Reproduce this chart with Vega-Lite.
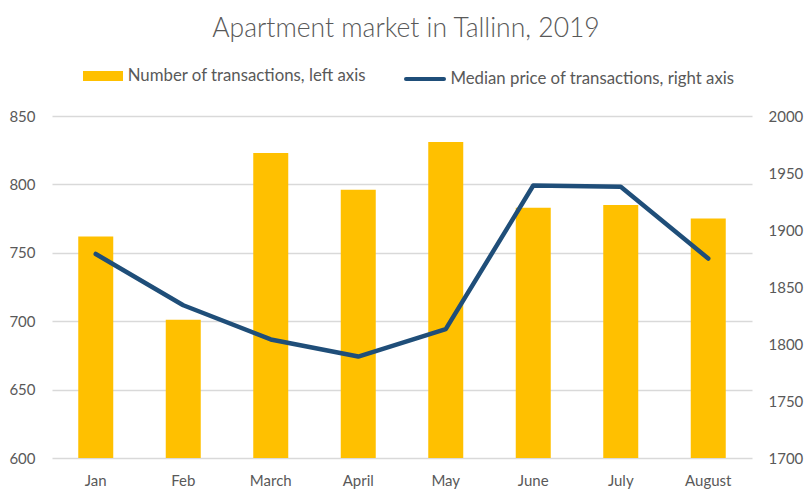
{
  "$schema": "https://vega.github.io/schema/vega-lite/v6.json",
  "width": 700,
  "height": 342,
  "autosize": {"type": "none"},
  "padding": {"left": 52, "top": 116, "right": 59, "bottom": 41},
  "background": "white",
  "title": {
    "text": "Apartment market in Tallinn, 2019",
    "font": "Lato",
    "fontSize": 26.5,
    "fontWeight": 300,
    "color": "#595959",
    "anchor": "middle",
    "offset": 16,
    "dx": 4
  },
  "config": {
    "view": {"stroke": null},
    "font": "Lato",
    "axis": {
      "labelFont": "Lato",
      "labelFontSize": 15,
      "labelColor": "#595959",
      "domain": false,
      "ticks": false,
      "title": null,
      "gridColor": "#d9d9d9",
      "gridWidth": 1.5
    },
    "legend": {
      "labelFont": "Lato",
      "labelFontSize": 16.8,
      "labelColor": "#595959",
      "padding": 0,
      "title": null,
      "orient": "none",
      "labelLimit": 400
    }
  },
  "data": {
    "values": [
      {"month": "Jan", "transactions": 762, "price": 1879},
      {"month": "Feb", "transactions": 701, "price": 1834},
      {"month": "March", "transactions": 823, "price": 1804},
      {"month": "April", "transactions": 796, "price": 1789},
      {"month": "May", "transactions": 831, "price": 1813},
      {"month": "June", "transactions": 783, "price": 1939},
      {"month": "July", "transactions": 785, "price": 1938},
      {"month": "August", "transactions": 775, "price": 1875}
    ]
  },
  "encoding": {
    "x": {
      "field": "month",
      "type": "nominal",
      "sort": null,
      "scale": {"paddingInner": 0.6, "paddingOuter": 0.3},
      "axis": {"labelAngle": 0, "labelPadding": 15, "grid": false}
    }
  },
  "layer": [
    {
      "mark": {"type": "bar", "clip": true},
      "encoding": {
        "y": {
          "field": "transactions",
          "type": "quantitative",
          "scale": {"domain": [600, 850], "zero": false, "nice": false},
          "axis": {"orient": "left", "values": [600, 650, 700, 750, 800, 850], "format": "d", "grid": true, "labelPadding": 17}
        },
        "color": {
          "datum": "Number of transactions, left axis",
          "type": "nominal",
          "scale": {"range": ["#FFC000"]},
          "legend": {
            "symbolType": "M-2,-0.5H2V0.5H-2Z",
            "symbolSize": 400,
            "symbolStrokeWidth": 0,
            "symbolOpacity": 1,
            "labelOffset": 14.7,
            "legendX": 41,
            "legendY": -50
          }
        }
      }
    },
    {
      "mark": {"type": "line", "strokeWidth": 4.5, "strokeCap": "round", "strokeJoin": "round"},
      "encoding": {
        "y": {
          "field": "price",
          "type": "quantitative",
          "scale": {"domain": [1700, 2000], "zero": false, "nice": false},
          "axis": {"orient": "right", "values": [1700, 1750, 1800, 1850, 1900, 1950, 2000], "format": "d", "grid": false, "labelPadding": 16}
        },
        "stroke": {
          "datum": "Median price of transactions, right axis",
          "type": "nominal",
          "scale": {"range": ["#1F4E79"]},
          "legend": {
            "symbolType": "stroke",
            "symbolSize": 1444,
            "symbolStrokeWidth": 4,
            "labelOffset": 4.4,
            "legendX": 352,
            "legendY": -58,
            "encode": {"symbols": {"update": {"strokeCap": {"value": "round"}}}}
          }
        }
      }
    }
  ],
  "resolve": {"scale": {"y": "independent", "color": "independent", "stroke": "independent"}}
}
